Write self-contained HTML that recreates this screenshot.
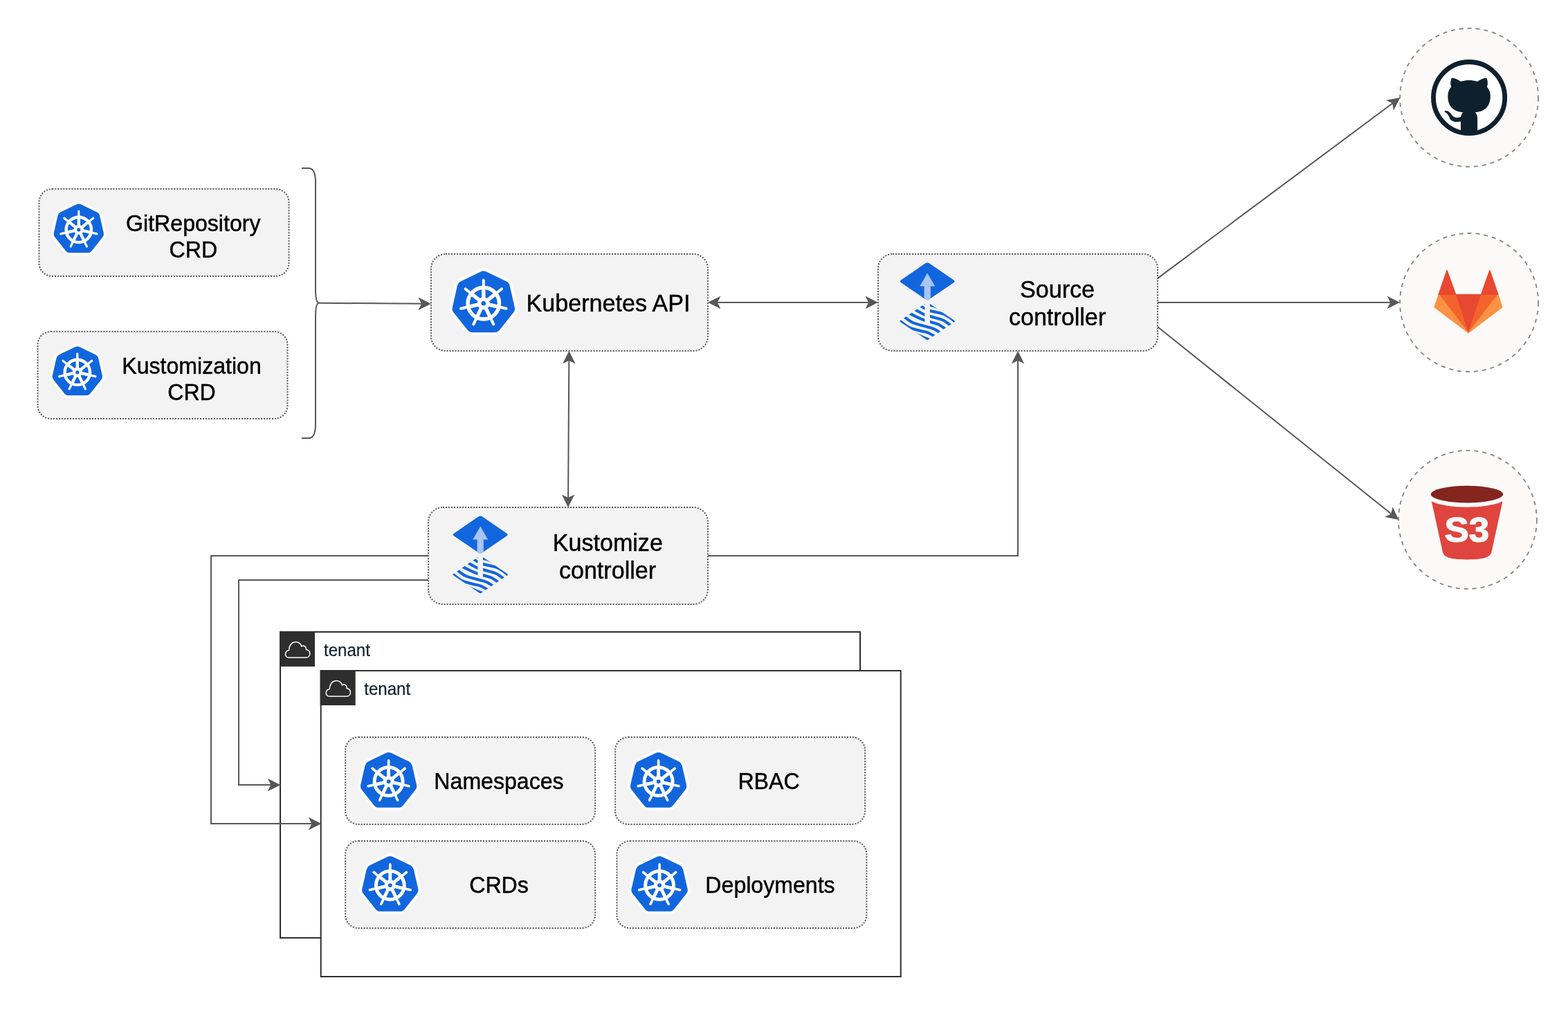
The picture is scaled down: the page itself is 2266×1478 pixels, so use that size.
<!DOCTYPE html>
<html lang="en">
<head>
<meta charset="utf-8">
<title>Flux multi-tenancy architecture</title>
<style>
html, body { margin: 0; padding: 0; background: #ffffff; }
body { width: 2266px; height: 1478px; overflow: hidden; }
svg { display: block; font-family: "Liberation Sans", Arial, Helvetica, sans-serif; will-change: transform; }
</style>
</head>
<body>
<svg width="2266" height="1478" viewBox="0 0 2266 1478">
<rect width="2266" height="1478" fill="#ffffff"/>
<rect x="405" y="913" width="838" height="442" fill="#ffffff" stroke="#2e2e2e" stroke-width="2"/>
<rect x="404" y="912" width="51" height="51" fill="#2e2e2e"/>
<path transform="translate(404,912)" d="M13.5 38 C9.5 38 8.2 34.8 8.6 32.4 C9 29.6 11.2 28 13.6 27.6 C13.4 22 16.6 16.2 22.6 15.6 C27.4 15.2 30.6 18.4 31.8 21.8 C33.4 20.6 36 20.6 37.4 22.6 C38.4 23.8 38.6 25.2 38.4 26.4 C42 27 44 29.6 43.8 32.8 C43.6 35.8 41.4 38 38.4 38 Z" fill="none" stroke="#ffffff" stroke-width="1.5" stroke-linejoin="round"/>
<text transform="translate(468 947.6) scale(1.003 1.045)" font-size="24" fill="#10202d" stroke="#10202d" stroke-width="0.2" stroke-linejoin="round" text-anchor="start" font-weight="normal">tenant</text>
<rect x="463.7" y="969" width="838" height="442" fill="#ffffff" stroke="#2e2e2e" stroke-width="2"/>
<rect x="462.7" y="968" width="51" height="51" fill="#2e2e2e"/>
<path transform="translate(462.7,968)" d="M13.5 38 C9.5 38 8.2 34.8 8.6 32.4 C9 29.6 11.2 28 13.6 27.6 C13.4 22 16.6 16.2 22.6 15.6 C27.4 15.2 30.6 18.4 31.8 21.8 C33.4 20.6 36 20.6 37.4 22.6 C38.4 23.8 38.6 25.2 38.4 26.4 C42 27 44 29.6 43.8 32.8 C43.6 35.8 41.4 38 38.4 38 Z" fill="none" stroke="#ffffff" stroke-width="1.5" stroke-linejoin="round"/>
<text transform="translate(526.2 1003.6) scale(1.003 1.045)" font-size="24" fill="#10202d" stroke="#10202d" stroke-width="0.2" stroke-linejoin="round" text-anchor="start" font-weight="normal">tenant</text>
<rect x="56.5" y="273" width="361" height="126" rx="18.9" ry="18.9" fill="#f3f3f3" stroke="#555555" stroke-width="2" stroke-dasharray="2 2"/>
<g>
<path d="M110.65 295.22 Q113.80 293.70 116.95 295.22 L140.12 306.38 Q143.28 307.89 144.05 311.31 L149.78 336.38 Q150.55 339.79 148.37 342.53 L132.34 362.63 Q130.16 365.37 126.66 365.37 L100.94 365.37 Q97.44 365.37 95.26 362.63 L79.23 342.53 Q77.05 339.79 77.82 336.38 L83.55 311.31 Q84.32 307.89 87.48 306.38 Z" fill="#ffffff" stroke="#ffffff" stroke-width="6.80" stroke-linejoin="round"/>
<path d="M110.65 295.22 Q113.80 293.70 116.95 295.22 L140.12 306.38 Q143.28 307.89 144.05 311.31 L149.78 336.38 Q150.55 339.79 148.37 342.53 L132.34 362.63 Q130.16 365.37 126.66 365.37 L100.94 365.37 Q97.44 365.37 95.26 362.63 L79.23 342.53 Q77.05 339.79 77.82 336.38 L83.55 311.31 Q84.32 307.89 87.48 306.38 Z" fill="#1266dd"/>
<path d="M113.80 331.90L113.80 305.10M113.80 331.90L134.75 315.19M113.80 331.90L139.93 337.86M113.80 331.90L125.43 356.05M113.80 331.90L102.17 356.05M113.80 331.90L87.67 337.86M113.80 331.90L92.85 315.19" stroke="#ffffff" stroke-width="3.20" stroke-linecap="round" fill="none"/>
<path d="M113.80 331.90L113.80 313.90M113.80 331.90L127.87 320.68M113.80 331.90L131.35 335.91M113.80 331.90L121.61 348.12M113.80 331.90L105.99 348.12M113.80 331.90L96.25 335.91M113.80 331.90L99.73 320.68" stroke="#ffffff" stroke-width="4.30" fill="none"/>
<circle cx="113.8" cy="331.90" r="18.20" fill="none" stroke="#ffffff" stroke-width="4.40"/>
<circle cx="113.8" cy="331.90" r="7.20" fill="#ffffff"/>
<circle cx="113.8" cy="331.90" r="2.60" fill="#1266dd"/>
</g>
<text transform="translate(279.3 333.6) scale(1.003 1.045)" font-size="32" fill="#000000" stroke="#000000" stroke-width="0.45" stroke-linejoin="round" text-anchor="middle" font-weight="normal">GitRepository</text>
<text transform="translate(279.3 372) scale(1.003 1.045)" font-size="32" fill="#000000" stroke="#000000" stroke-width="0.45" stroke-linejoin="round" text-anchor="middle" font-weight="normal">CRD</text>
<rect x="54.5" y="479" width="361" height="126" rx="18.9" ry="18.9" fill="#f3f3f3" stroke="#555555" stroke-width="2" stroke-dasharray="2 2"/>
<g>
<path d="M108.65 501.22 Q111.80 499.70 114.95 501.22 L138.12 512.38 Q141.28 513.89 142.05 517.31 L147.78 542.38 Q148.55 545.79 146.37 548.53 L130.34 568.63 Q128.16 571.37 124.66 571.37 L98.94 571.37 Q95.44 571.37 93.26 568.63 L77.23 548.53 Q75.05 545.79 75.82 542.38 L81.55 517.31 Q82.32 513.89 85.48 512.38 Z" fill="#ffffff" stroke="#ffffff" stroke-width="6.80" stroke-linejoin="round"/>
<path d="M108.65 501.22 Q111.80 499.70 114.95 501.22 L138.12 512.38 Q141.28 513.89 142.05 517.31 L147.78 542.38 Q148.55 545.79 146.37 548.53 L130.34 568.63 Q128.16 571.37 124.66 571.37 L98.94 571.37 Q95.44 571.37 93.26 568.63 L77.23 548.53 Q75.05 545.79 75.82 542.38 L81.55 517.31 Q82.32 513.89 85.48 512.38 Z" fill="#1266dd"/>
<path d="M111.80 537.90L111.80 511.10M111.80 537.90L132.75 521.19M111.80 537.90L137.93 543.86M111.80 537.90L123.43 562.05M111.80 537.90L100.17 562.05M111.80 537.90L85.67 543.86M111.80 537.90L90.85 521.19" stroke="#ffffff" stroke-width="3.20" stroke-linecap="round" fill="none"/>
<path d="M111.80 537.90L111.80 519.90M111.80 537.90L125.87 526.68M111.80 537.90L129.35 541.91M111.80 537.90L119.61 554.12M111.80 537.90L103.99 554.12M111.80 537.90L94.25 541.91M111.80 537.90L97.73 526.68" stroke="#ffffff" stroke-width="4.30" fill="none"/>
<circle cx="111.8" cy="537.90" r="18.20" fill="none" stroke="#ffffff" stroke-width="4.40"/>
<circle cx="111.8" cy="537.90" r="7.20" fill="#ffffff"/>
<circle cx="111.8" cy="537.90" r="2.60" fill="#1266dd"/>
</g>
<text transform="translate(277 539.6) scale(1.003 1.045)" font-size="32" fill="#000000" stroke="#000000" stroke-width="0.45" stroke-linejoin="round" text-anchor="middle" font-weight="normal">Kustomization</text>
<text transform="translate(277 578) scale(1.003 1.045)" font-size="32" fill="#000000" stroke="#000000" stroke-width="0.45" stroke-linejoin="round" text-anchor="middle" font-weight="normal">CRD</text>
<rect x="499.1" y="1065" width="361" height="126" rx="18.9" ry="18.9" fill="#f3f3f3" stroke="#555555" stroke-width="2" stroke-dasharray="2 2"/>
<g>
<path d="M558.05 1087.80 Q561.60 1086.09 565.15 1087.80 L591.21 1100.35 Q594.76 1102.06 595.64 1105.90 L602.07 1134.10 Q602.95 1137.94 600.49 1141.02 L582.46 1163.63 Q580.00 1166.71 576.06 1166.71 L547.14 1166.71 Q543.20 1166.71 540.74 1163.63 L522.71 1141.02 Q520.25 1137.94 521.13 1134.10 L527.56 1105.90 Q528.44 1102.06 531.99 1100.35 Z" fill="#ffffff" stroke="#ffffff" stroke-width="7.65" stroke-linejoin="round"/>
<path d="M558.05 1087.80 Q561.60 1086.09 565.15 1087.80 L591.21 1100.35 Q594.76 1102.06 595.64 1105.90 L602.07 1134.10 Q602.95 1137.94 600.49 1141.02 L582.46 1163.63 Q580.00 1166.71 576.06 1166.71 L547.14 1166.71 Q543.20 1166.71 540.74 1163.63 L522.71 1141.02 Q520.25 1137.94 521.13 1134.10 L527.56 1105.90 Q528.44 1102.06 531.99 1100.35 Z" fill="#1266dd"/>
<path d="M561.60 1129.06L561.60 1098.91M561.60 1129.06L585.17 1110.26M561.60 1129.06L590.99 1135.77M561.60 1129.06L574.68 1156.23M561.60 1129.06L548.52 1156.23M561.60 1129.06L532.21 1135.77M561.60 1129.06L538.03 1110.26" stroke="#ffffff" stroke-width="3.60" stroke-linecap="round" fill="none"/>
<path d="M561.60 1129.06L561.60 1108.81M561.60 1129.06L577.43 1116.44M561.60 1129.06L581.34 1133.57M561.60 1129.06L570.39 1147.31M561.60 1129.06L552.81 1147.31M561.60 1129.06L541.86 1133.57M561.60 1129.06L545.77 1116.44" stroke="#ffffff" stroke-width="4.84" fill="none"/>
<circle cx="561.6" cy="1129.06" r="20.47" fill="none" stroke="#ffffff" stroke-width="4.95"/>
<circle cx="561.6" cy="1129.06" r="8.10" fill="#ffffff"/>
<circle cx="561.6" cy="1129.06" r="2.93" fill="#1266dd"/>
</g>
<text transform="translate(721 1140) scale(1.003 1.045)" font-size="32" fill="#000000" stroke="#000000" stroke-width="0.45" stroke-linejoin="round" text-anchor="middle" font-weight="normal">Namespaces</text>
<rect x="889.1" y="1065" width="361" height="126" rx="18.9" ry="18.9" fill="#f3f3f3" stroke="#555555" stroke-width="2" stroke-dasharray="2 2"/>
<g>
<path d="M948.05 1087.80 Q951.60 1086.09 955.15 1087.80 L981.21 1100.35 Q984.76 1102.06 985.64 1105.90 L992.07 1134.10 Q992.95 1137.94 990.49 1141.02 L972.46 1163.63 Q970.00 1166.71 966.06 1166.71 L937.14 1166.71 Q933.20 1166.71 930.74 1163.63 L912.71 1141.02 Q910.25 1137.94 911.13 1134.10 L917.56 1105.90 Q918.44 1102.06 921.99 1100.35 Z" fill="#ffffff" stroke="#ffffff" stroke-width="7.65" stroke-linejoin="round"/>
<path d="M948.05 1087.80 Q951.60 1086.09 955.15 1087.80 L981.21 1100.35 Q984.76 1102.06 985.64 1105.90 L992.07 1134.10 Q992.95 1137.94 990.49 1141.02 L972.46 1163.63 Q970.00 1166.71 966.06 1166.71 L937.14 1166.71 Q933.20 1166.71 930.74 1163.63 L912.71 1141.02 Q910.25 1137.94 911.13 1134.10 L917.56 1105.90 Q918.44 1102.06 921.99 1100.35 Z" fill="#1266dd"/>
<path d="M951.60 1129.06L951.60 1098.91M951.60 1129.06L975.17 1110.26M951.60 1129.06L980.99 1135.77M951.60 1129.06L964.68 1156.23M951.60 1129.06L938.52 1156.23M951.60 1129.06L922.21 1135.77M951.60 1129.06L928.03 1110.26" stroke="#ffffff" stroke-width="3.60" stroke-linecap="round" fill="none"/>
<path d="M951.60 1129.06L951.60 1108.81M951.60 1129.06L967.43 1116.44M951.60 1129.06L971.34 1133.57M951.60 1129.06L960.39 1147.31M951.60 1129.06L942.81 1147.31M951.60 1129.06L931.86 1133.57M951.60 1129.06L935.77 1116.44" stroke="#ffffff" stroke-width="4.84" fill="none"/>
<circle cx="951.6" cy="1129.06" r="20.47" fill="none" stroke="#ffffff" stroke-width="4.95"/>
<circle cx="951.6" cy="1129.06" r="8.10" fill="#ffffff"/>
<circle cx="951.6" cy="1129.06" r="2.93" fill="#1266dd"/>
</g>
<text transform="translate(1111 1140) scale(1.003 1.045)" font-size="32" fill="#000000" stroke="#000000" stroke-width="0.45" stroke-linejoin="round" text-anchor="middle" font-weight="normal">RBAC</text>
<rect x="499.1" y="1215" width="361" height="126" rx="18.9" ry="18.9" fill="#f3f3f3" stroke="#555555" stroke-width="2" stroke-dasharray="2 2"/>
<g>
<path d="M560.25 1237.80 Q563.80 1236.09 567.35 1237.80 L593.41 1250.35 Q596.96 1252.06 597.84 1255.90 L604.27 1284.10 Q605.15 1287.94 602.69 1291.02 L584.66 1313.63 Q582.20 1316.71 578.26 1316.71 L549.34 1316.71 Q545.40 1316.71 542.94 1313.63 L524.91 1291.02 Q522.45 1287.94 523.33 1284.10 L529.76 1255.90 Q530.64 1252.06 534.19 1250.35 Z" fill="#ffffff" stroke="#ffffff" stroke-width="7.65" stroke-linejoin="round"/>
<path d="M560.25 1237.80 Q563.80 1236.09 567.35 1237.80 L593.41 1250.35 Q596.96 1252.06 597.84 1255.90 L604.27 1284.10 Q605.15 1287.94 602.69 1291.02 L584.66 1313.63 Q582.20 1316.71 578.26 1316.71 L549.34 1316.71 Q545.40 1316.71 542.94 1313.63 L524.91 1291.02 Q522.45 1287.94 523.33 1284.10 L529.76 1255.90 Q530.64 1252.06 534.19 1250.35 Z" fill="#1266dd"/>
<path d="M563.80 1279.06L563.80 1248.91M563.80 1279.06L587.37 1260.26M563.80 1279.06L593.19 1285.77M563.80 1279.06L576.88 1306.23M563.80 1279.06L550.72 1306.23M563.80 1279.06L534.41 1285.77M563.80 1279.06L540.23 1260.26" stroke="#ffffff" stroke-width="3.60" stroke-linecap="round" fill="none"/>
<path d="M563.80 1279.06L563.80 1258.81M563.80 1279.06L579.63 1266.44M563.80 1279.06L583.54 1283.57M563.80 1279.06L572.59 1297.31M563.80 1279.06L555.01 1297.31M563.80 1279.06L544.06 1283.57M563.80 1279.06L547.97 1266.44" stroke="#ffffff" stroke-width="4.84" fill="none"/>
<circle cx="563.8" cy="1279.06" r="20.47" fill="none" stroke="#ffffff" stroke-width="4.95"/>
<circle cx="563.8" cy="1279.06" r="8.10" fill="#ffffff"/>
<circle cx="563.8" cy="1279.06" r="2.93" fill="#1266dd"/>
</g>
<text transform="translate(721 1290) scale(1.003 1.045)" font-size="32" fill="#000000" stroke="#000000" stroke-width="0.45" stroke-linejoin="round" text-anchor="middle" font-weight="normal">CRDs</text>
<rect x="891.4" y="1215" width="361" height="126" rx="18.9" ry="18.9" fill="#f3f3f3" stroke="#555555" stroke-width="2" stroke-dasharray="2 2"/>
<g>
<path d="M949.55 1237.80 Q953.10 1236.09 956.65 1237.80 L982.71 1250.35 Q986.26 1252.06 987.14 1255.90 L993.57 1284.10 Q994.45 1287.94 991.99 1291.02 L973.96 1313.63 Q971.50 1316.71 967.56 1316.71 L938.64 1316.71 Q934.70 1316.71 932.24 1313.63 L914.21 1291.02 Q911.75 1287.94 912.63 1284.10 L919.06 1255.90 Q919.94 1252.06 923.49 1250.35 Z" fill="#ffffff" stroke="#ffffff" stroke-width="7.65" stroke-linejoin="round"/>
<path d="M949.55 1237.80 Q953.10 1236.09 956.65 1237.80 L982.71 1250.35 Q986.26 1252.06 987.14 1255.90 L993.57 1284.10 Q994.45 1287.94 991.99 1291.02 L973.96 1313.63 Q971.50 1316.71 967.56 1316.71 L938.64 1316.71 Q934.70 1316.71 932.24 1313.63 L914.21 1291.02 Q911.75 1287.94 912.63 1284.10 L919.06 1255.90 Q919.94 1252.06 923.49 1250.35 Z" fill="#1266dd"/>
<path d="M953.10 1279.06L953.10 1248.91M953.10 1279.06L976.67 1260.26M953.10 1279.06L982.49 1285.77M953.10 1279.06L966.18 1306.23M953.10 1279.06L940.02 1306.23M953.10 1279.06L923.71 1285.77M953.10 1279.06L929.53 1260.26" stroke="#ffffff" stroke-width="3.60" stroke-linecap="round" fill="none"/>
<path d="M953.10 1279.06L953.10 1258.81M953.10 1279.06L968.93 1266.44M953.10 1279.06L972.84 1283.57M953.10 1279.06L961.89 1297.31M953.10 1279.06L944.31 1297.31M953.10 1279.06L933.36 1283.57M953.10 1279.06L937.27 1266.44" stroke="#ffffff" stroke-width="4.84" fill="none"/>
<circle cx="953.1" cy="1279.06" r="20.47" fill="none" stroke="#ffffff" stroke-width="4.95"/>
<circle cx="953.1" cy="1279.06" r="8.10" fill="#ffffff"/>
<circle cx="953.1" cy="1279.06" r="2.93" fill="#1266dd"/>
</g>
<text transform="translate(1113 1290) scale(1.003 1.045)" font-size="32" fill="#000000" stroke="#000000" stroke-width="0.45" stroke-linejoin="round" text-anchor="middle" font-weight="normal">Deployments</text>
<rect x="623" y="367" width="400" height="140" rx="21.0" ry="21.0" fill="#f3f3f3" stroke="#555555" stroke-width="2" stroke-dasharray="2 2"/>
<g>
<path d="M694.86 392.47 Q698.80 390.57 702.74 392.47 L731.70 406.42 Q735.64 408.32 736.62 412.58 L743.77 443.92 Q744.74 448.19 742.02 451.61 L721.97 476.74 Q719.25 480.16 714.87 480.16 L682.73 480.16 Q678.35 480.16 675.63 476.74 L655.58 451.61 Q652.86 448.19 653.83 443.92 L660.98 412.58 Q661.96 408.32 665.90 406.42 Z" fill="#ffffff" stroke="#ffffff" stroke-width="8.50" stroke-linejoin="round"/>
<path d="M694.86 392.47 Q698.80 390.57 702.74 392.47 L731.70 406.42 Q735.64 408.32 736.62 412.58 L743.77 443.92 Q744.74 448.19 742.02 451.61 L721.97 476.74 Q719.25 480.16 714.87 480.16 L682.73 480.16 Q678.35 480.16 675.63 476.74 L655.58 451.61 Q652.86 448.19 653.83 443.92 L660.98 412.58 Q661.96 408.32 665.90 406.42 Z" fill="#1266dd"/>
<path d="M698.80 438.32L698.80 404.82M698.80 438.32L724.99 417.44M698.80 438.32L731.46 445.78M698.80 438.32L713.34 468.51M698.80 438.32L684.26 468.51M698.80 438.32L666.14 445.78M698.80 438.32L672.61 417.44" stroke="#ffffff" stroke-width="4.00" stroke-linecap="round" fill="none"/>
<path d="M698.80 438.32L698.80 415.82M698.80 438.32L716.39 424.30M698.80 438.32L720.74 443.33M698.80 438.32L708.56 458.60M698.80 438.32L689.04 458.60M698.80 438.32L676.86 443.33M698.80 438.32L681.21 424.30" stroke="#ffffff" stroke-width="5.38" fill="none"/>
<circle cx="698.8" cy="438.32" r="22.75" fill="none" stroke="#ffffff" stroke-width="5.50"/>
<circle cx="698.8" cy="438.32" r="9.00" fill="#ffffff"/>
<circle cx="698.8" cy="438.32" r="3.25" fill="#1266dd"/>
</g>
<text transform="translate(879 449.5) scale(1.003 1.045)" font-size="34" fill="#000000" stroke="#000000" stroke-width="0.45" stroke-linejoin="round" text-anchor="middle" font-weight="normal">Kubernetes API</text>
<rect x="1269" y="367" width="404" height="140" rx="21.0" ry="21.0" fill="#f3f3f3" stroke="#555555" stroke-width="2" stroke-dasharray="2 2"/>
<path d="M1337.22 380.62 Q1340.20 378.60 1343.18 380.62 L1378.12 404.38 Q1381.10 406.40 1378.12 408.42 L1343.18 432.18 Q1340.20 434.20 1337.22 432.18 L1302.28 408.42 Q1299.30 406.40 1302.28 404.38 Z" fill="#1266dd"/>
<path d="M1340.2 395.0 L1350.7 413.29999999999995 L1344.5 413.29999999999995 L1344.5 430.79999999999995 L1340.2 433.59999999999997 L1335.9 430.79999999999995 L1335.9 413.29999999999995 L1329.7 413.29999999999995 Z" fill="#a9c5f1" stroke="#a9c5f1" stroke-width="0.6" stroke-linejoin="round"/>
<clipPath id="fc1"><path d="M1338.55 437.62 Q1340.20 436.50 1341.85 437.62 L1379.15 462.98 Q1380.80 464.10 1379.15 465.22 L1341.85 490.58 Q1340.20 491.70 1338.55 490.58 L1301.25 465.22 Q1299.60 464.10 1301.25 462.98 Z"/></clipPath>
<g clip-path="url(#fc1)" fill="none" stroke="#1266dd" stroke-width="4.1"><path d="M1334.59 437.70 C1336.17 438.20 1341.12 439.79 1344.05 440.69 C1346.98 441.60 1349.37 442.07 1352.19 443.11 C1355.01 444.16 1358.05 445.35 1360.99 446.94 C1363.92 448.53 1368.32 451.71 1369.79 452.66"/><path d="M1325.79 439.02 C1326.38 439.43 1328.21 440.75 1329.31 441.44 C1330.41 442.14 1331.25 442.54 1332.39 443.20 C1333.53 443.86 1334.19 444.43 1336.13 445.40 C1338.07 446.38 1339.54 447.68 1344.05 449.05 C1348.56 450.42 1358.53 452.07 1363.19 453.63 C1367.84 455.18 1369.31 456.64 1371.99 458.38 C1374.66 460.13 1377.05 462.27 1379.25 464.10 C1381.45 465.93 1384.19 468.50 1385.18 469.38"/><path d="M1316.99 444.30 C1318.02 444.89 1320.95 446.61 1323.15 447.82 C1325.35 449.03 1328.03 450.45 1330.19 451.56 C1332.35 452.68 1333.82 453.61 1336.13 454.51 C1338.44 455.41 1339.91 455.74 1344.05 456.97 C1348.19 458.20 1357.06 460.49 1360.99 461.90 C1364.91 463.31 1365.50 464.09 1367.59 465.42 C1369.68 466.75 1371.69 468.44 1373.53 469.91 C1375.36 471.37 1377.74 473.50 1378.59 474.22"/><path d="M1310.39 450.02 C1311.21 450.53 1312.75 451.71 1315.32 453.10 C1317.89 454.49 1322.32 456.77 1325.79 458.38 C1329.26 459.99 1333.09 461.67 1336.13 462.78 C1339.17 463.89 1340.71 464.08 1344.05 465.07 C1347.39 466.06 1352.59 467.11 1356.15 468.72 C1359.70 470.33 1363.11 473.17 1365.39 474.75 C1367.66 476.32 1369.05 477.61 1369.79 478.18"/><path d="M1301.59 453.10 C1302.56 453.92 1304.47 455.87 1307.40 458.03 C1310.33 460.19 1314.29 463.86 1319.19 466.08 C1324.09 468.30 1331.84 469.89 1336.79 471.36 C1341.74 472.83 1345.38 473.41 1348.89 474.88 C1352.39 476.35 1355.44 478.58 1357.82 480.16 C1360.20 481.73 1362.29 483.64 1363.19 484.34"/><path d="M1297.20 460.58 C1297.86 461.17 1298.41 462.00 1301.15 464.10 C1303.90 466.20 1308.85 470.90 1313.69 473.21 C1318.53 475.52 1325.79 476.76 1330.19 477.96 C1334.59 479.15 1336.81 479.13 1340.09 480.38 C1343.37 481.62 1347.15 483.82 1349.90 485.44 C1352.65 487.05 1355.47 489.29 1356.59 490.06"/><path d="M1321.39 481.70 C1322.13 482.08 1323.59 483.00 1325.79 483.99 C1327.99 484.98 1331.66 486.43 1334.59 487.64 C1337.52 488.85 1340.82 490.11 1343.39 491.24 C1345.96 492.38 1348.89 493.92 1349.99 494.46"/></g>
<rect x="1336.40" y="435.50" width="7.6" height="31.60" fill="#f3f3f3"/>
<text transform="translate(1528 430.2) scale(1.003 1.045)" font-size="34" fill="#000000" stroke="#000000" stroke-width="0.45" stroke-linejoin="round" text-anchor="middle" font-weight="normal">Source</text>
<text transform="translate(1528 470.0) scale(1.003 1.045)" font-size="34" fill="#000000" stroke="#000000" stroke-width="0.45" stroke-linejoin="round" text-anchor="middle" font-weight="normal">controller</text>
<rect x="619" y="733" width="404" height="140" rx="21.0" ry="21.0" fill="#f3f3f3" stroke="#555555" stroke-width="2" stroke-dasharray="2 2"/>
<path d="M691.22 746.62 Q694.20 744.60 697.18 746.62 L732.12 770.38 Q735.10 772.40 732.12 774.42 L697.18 798.18 Q694.20 800.20 691.22 798.18 L656.28 774.42 Q653.30 772.40 656.28 770.38 Z" fill="#1266dd"/>
<path d="M694.2 761.0 L704.7 779.3 L698.5 779.3 L698.5 796.8 L694.2 799.6 L689.9000000000001 796.8 L689.9000000000001 779.3 L683.7 779.3 Z" fill="#a9c5f1" stroke="#a9c5f1" stroke-width="0.6" stroke-linejoin="round"/>
<clipPath id="fc2"><path d="M692.55 803.62 Q694.20 802.50 695.85 803.62 L733.15 828.98 Q734.80 830.10 733.15 831.22 L695.85 856.58 Q694.20 857.70 692.55 856.58 L655.25 831.22 Q653.60 830.10 655.25 828.98 Z"/></clipPath>
<g clip-path="url(#fc2)" fill="none" stroke="#1266dd" stroke-width="4.1"><path d="M688.59 803.70 C690.17 804.20 695.12 805.79 698.05 806.69 C700.98 807.60 703.37 808.07 706.19 809.11 C709.01 810.16 712.05 811.35 714.99 812.94 C717.92 814.53 722.32 817.71 723.79 818.66"/><path d="M679.79 805.02 C680.38 805.43 682.21 806.75 683.31 807.44 C684.41 808.14 685.25 808.54 686.39 809.20 C687.53 809.86 688.19 810.43 690.13 811.40 C692.07 812.38 693.54 813.68 698.05 815.05 C702.56 816.42 712.53 818.07 717.19 819.63 C721.84 821.18 723.31 822.64 725.99 824.38 C728.66 826.13 731.05 828.27 733.25 830.10 C735.45 831.93 738.19 834.50 739.18 835.38"/><path d="M670.99 810.30 C672.02 810.89 674.95 812.61 677.15 813.82 C679.35 815.03 682.03 816.45 684.19 817.56 C686.35 818.68 687.82 819.61 690.13 820.51 C692.44 821.41 693.91 821.74 698.05 822.97 C702.19 824.20 711.06 826.49 714.99 827.90 C718.91 829.31 719.50 830.09 721.59 831.42 C723.68 832.75 725.69 834.44 727.53 835.91 C729.36 837.37 731.74 839.50 732.59 840.22"/><path d="M664.39 816.02 C665.21 816.53 666.75 817.71 669.32 819.10 C671.89 820.49 676.32 822.77 679.79 824.38 C683.26 825.99 687.09 827.67 690.13 828.78 C693.17 829.89 694.71 830.08 698.05 831.07 C701.39 832.06 706.59 833.11 710.15 834.72 C713.70 836.33 717.11 839.17 719.39 840.75 C721.66 842.32 723.05 843.61 723.79 844.18"/><path d="M655.59 819.10 C656.56 819.92 658.47 821.87 661.40 824.03 C664.33 826.19 668.29 829.86 673.19 832.08 C678.09 834.30 685.84 835.89 690.79 837.36 C695.74 838.83 699.38 839.41 702.89 840.88 C706.39 842.35 709.44 844.58 711.82 846.16 C714.20 847.73 716.29 849.64 717.19 850.34"/><path d="M651.20 826.58 C651.86 827.17 652.41 828.00 655.15 830.10 C657.90 832.20 662.85 836.90 667.69 839.21 C672.53 841.52 679.79 842.76 684.19 843.96 C688.59 845.15 690.81 845.13 694.09 846.38 C697.37 847.62 701.15 849.82 703.90 851.44 C706.65 853.05 709.47 855.29 710.59 856.06"/><path d="M675.39 847.70 C676.13 848.08 677.59 849.00 679.79 849.99 C681.99 850.98 685.66 852.43 688.59 853.64 C691.52 854.85 694.82 856.11 697.39 857.24 C699.96 858.38 702.89 859.92 703.99 860.46"/></g>
<rect x="690.40" y="801.50" width="7.6" height="31.60" fill="#f3f3f3"/>
<text transform="translate(878.3 796.2) scale(1.003 1.045)" font-size="34" fill="#000000" stroke="#000000" stroke-width="0.45" stroke-linejoin="round" text-anchor="middle" font-weight="normal">Kustomize</text>
<text transform="translate(878 836.0) scale(1.003 1.045)" font-size="34" fill="#000000" stroke="#000000" stroke-width="0.45" stroke-linejoin="round" text-anchor="middle" font-weight="normal">controller</text>
<circle cx="2123.1" cy="140.9" r="100" fill="#fbfaf9" stroke="#848484" stroke-width="1.8" stroke-dasharray="6 6"/>
<circle cx="2123.1" cy="141.1" r="51.6" fill="#ffffff" stroke="#0e202d" stroke-width="6.8"/>
<clipPath id="gh3"><circle cx="2123.1" cy="141.1" r="50"/></clipPath>
<g clip-path="url(#gh3)"><path transform="translate(2074.74,92.84) scale(6.03)" d="M6.01 16.6 L6.01 13.72 c-2.01.37-2.53-.49-2.69-.94-.09-.23-.48-.94-.82-1.13-.28-.15-.68-.52-.01-.53.63-.01 1.08.58 1.23.82.72 1.21 1.87.87 2.33.66.07-.52.28-.87.51-1.07-1.78-.2-3.64-.89-3.64-3.95 0-.87.31-1.59.82-2.15-.08-.2-.36-1.02.08-2.12 0 0 .67-.21 2.2.82.64-.18 1.32-.27 2-.27.68 0 1.36.09 2 .27 1.53-1.04 2.2-.82 2.2-.82.44 1.1.16 1.92.08 2.12.51.56.82 1.27.82 2.15 0 3.07-1.87 3.75-3.65 3.95.29.25.54.73.54 1.48 L10.01 16.6 Z" fill="#0e202d"/></g>
<circle cx="2123.1" cy="437" r="100" fill="#fbfaf9" stroke="#848484" stroke-width="1.8" stroke-dasharray="6 6"/>
<path d="M2103.5 425.3 L2140.7 425.3 L2122.0 481.1 Z" fill="#e8482f" stroke="#e8482f" stroke-width="0.8" stroke-linejoin="round"/>
<path d="M2079.2 425.3 L2103.5 425.3 L2122.0 481.1 Z" fill="#f4632c"/>
<path d="M2140.7 425.3 L2164.8 425.3 L2122.0 481.1 Z" fill="#f4632c"/>
<path d="M2079.2 425.3 L2072.8 443.9 L2122.0 481.1 Z" fill="#fc9243" stroke="#fc9243" stroke-width="1" stroke-linejoin="round"/>
<path d="M2164.8 425.3 L2171.1 443.9 L2122.0 481.1 Z" fill="#fc9243" stroke="#fc9243" stroke-width="1" stroke-linejoin="round"/>
<path d="M2079.2 425.3 L2091.1 390.8 L2103.5 425.3 Z" fill="#e8482f" stroke="#e8482f" stroke-width="1.5" stroke-linejoin="round"/>
<path d="M2140.7 425.3 L2152.9 390.8 L2164.8 425.3 Z" fill="#e8482f" stroke="#e8482f" stroke-width="1.5" stroke-linejoin="round"/>
<circle cx="2120.9" cy="750.9" r="100" fill="#fbfaf9" stroke="#848484" stroke-width="1.8" stroke-dasharray="6 6"/>
<g transform="translate(0.0,0.0)">
<path d="M2068.8 724.3 C2090 735.5 2150 735.5 2171.5 724.3 L2155.6 797 C2154 805 2145 808.4 2120.2 808.4 C2095 808.4 2086.5 805 2084.8 797 Z" fill="#e0443e"/>
<ellipse cx="2120" cy="714.1" rx="52.3" ry="12.3" fill="#84261f"/>
<text transform="translate(2119.8 783.6) scale(1.05 1)" x="0" y="-0.6" font-size="50.5" font-weight="bold" fill="#fbfaf9" stroke="#fbfaf9" stroke-width="1.2" stroke-linejoin="round" text-anchor="middle">S3</text>
</g>
<path d="M436 243 H446 Q456 243 456 263 V418 Q456 437.8 461 437.8 M461 437.8 Q456 437.8 456 458 V613 Q456 633 446 633 H436" fill="none" stroke="#575757" stroke-width="2"/>
<path d="M620.76 438.88 L606.72 445.79 L610.26 438.81 L606.81 431.79 Z" fill="#575757" stroke="#575757" stroke-width="2" stroke-miterlimit="10"/>
<path d="M460.60 437.80 L610.26 438.81" fill="none" stroke="#575757" stroke-width="2" stroke-miterlimit="10"/>
<path d="M1266.76 436.90 L1252.76 443.90 L1256.26 436.90 L1252.76 429.90 Z" fill="#575757" stroke="#575757" stroke-width="2" stroke-miterlimit="10"/>
<path d="M1025.24 436.90 L1039.24 429.90 L1035.74 436.90 L1039.24 443.90 Z" fill="#575757" stroke="#575757" stroke-width="2" stroke-miterlimit="10"/>
<path d="M1035.74 436.90 L1256.26 436.90" fill="none" stroke="#575757" stroke-width="2" stroke-miterlimit="10"/>
<path d="M821.01 730.76 L814.10 716.72 L821.08 720.26 L828.10 716.81 Z" fill="#575757" stroke="#575757" stroke-width="2" stroke-miterlimit="10"/>
<path d="M822.39 509.24 L829.30 523.28 L822.32 519.74 L815.30 523.19 Z" fill="#575757" stroke="#575757" stroke-width="2" stroke-miterlimit="10"/>
<path d="M822.32 519.74 L821.08 720.26" fill="none" stroke="#575757" stroke-width="2" stroke-miterlimit="10"/>
<path d="M1471.00 509.24 L1478.00 523.24 L1471.00 519.74 L1464.00 523.24 Z" fill="#575757" stroke="#575757" stroke-width="2" stroke-miterlimit="10"/>
<path d="M1023.00 803.00 L1471.00 803.00 L1471.00 519.74" fill="none" stroke="#575757" stroke-width="2" stroke-miterlimit="10"/>
<path d="M2021.51 142.44 L2014.46 156.41 L2013.09 148.71 L2006.10 145.19 Z" fill="#575757" stroke="#575757" stroke-width="2" stroke-miterlimit="10"/>
<path d="M1673.00 402.10 L2013.09 148.71" fill="none" stroke="#575757" stroke-width="2" stroke-miterlimit="10"/>
<path d="M2020.86 436.90 L2006.86 443.90 L2010.36 436.90 L2006.86 429.90 Z" fill="#575757" stroke="#575757" stroke-width="2" stroke-miterlimit="10"/>
<path d="M1673.00 436.90 L2010.36 436.90" fill="none" stroke="#575757" stroke-width="2" stroke-miterlimit="10"/>
<path d="M2019.45 749.60 L2004.15 746.32 L2011.26 743.04 L2012.90 735.39 Z" fill="#575757" stroke="#575757" stroke-width="2" stroke-miterlimit="10"/>
<path d="M1673.00 472.20 L2011.26 743.04" fill="none" stroke="#575757" stroke-width="2" stroke-miterlimit="10"/>
<path d="M462.06 1190.00 L448.06 1197.00 L451.56 1190.00 L448.06 1183.00 Z" fill="#575757" stroke="#575757" stroke-width="2" stroke-miterlimit="10"/>
<path d="M619.00 803.00 L305.00 803.00 L305.00 1190.00 L451.56 1190.00" fill="none" stroke="#575757" stroke-width="2" stroke-miterlimit="10"/>
<path d="M403.06 1134.00 L389.06 1141.00 L392.56 1134.00 L389.06 1127.00 Z" fill="#575757" stroke="#575757" stroke-width="2" stroke-miterlimit="10"/>
<path d="M619.00 838.00 L345.00 838.00 L345.00 1134.00 L392.56 1134.00" fill="none" stroke="#575757" stroke-width="2" stroke-miterlimit="10"/>
</svg>
</body>
</html>
